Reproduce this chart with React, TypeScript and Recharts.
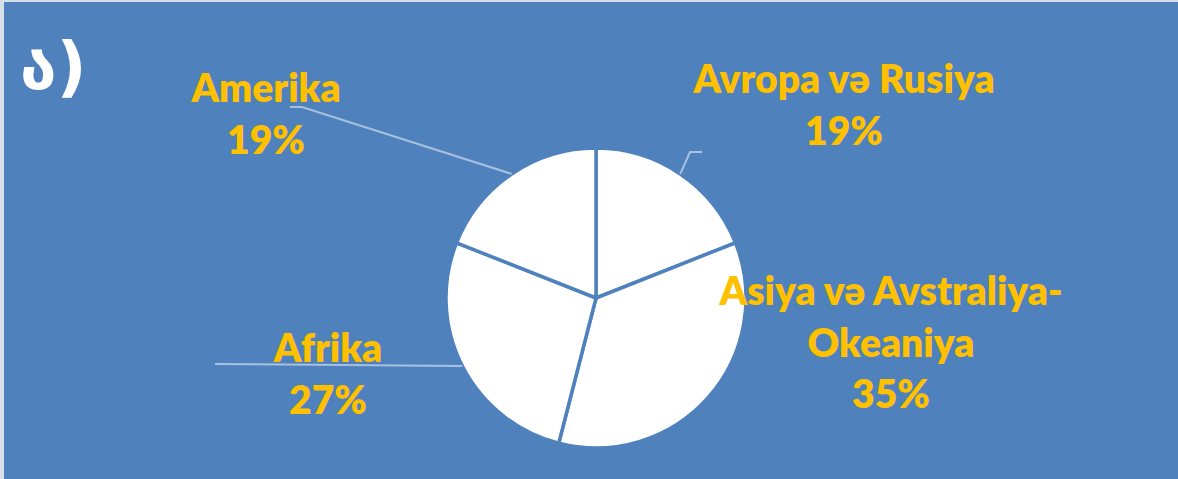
import { PieChart, Pie, Cell } from 'recharts';

// slices, clockwise from 12 o'clock
const regions = ['Avropa və Rusiya', 'Asiya və Avstraliya-Okeaniya', 'Afrika', 'Amerika'];
const shares = [19, 35, 27, 19];

const data = regions.map((name, i) => ({ name, value: shares[i] }));

const BG = '#4F81BD';
const GOLD = '#FFC000';
const LEADER = '#A9C0DE';
const FONT = 'Lato, "Open Sans", sans-serif';

// where each label sits (text centre x, first baseline y) and its leader line bend points
const LABEL_LAYOUT: Record<string, { x: number; y: number; leader?: [number, number][] }> = {
    'Avropa və Rusiya': { x: 844, y: 93, leader: [[690, 152], [702, 152]] },
    'Asiya və Avstraliya-Okeaniya': { x: 891, y: 305 },
    'Afrika': { x: 328, y: 362, leader: [[215, 364]] },
    'Amerika': { x: 266, y: 102, leader: [[302, 107], [290, 107]] },
};

const RADIAN = Math.PI / 180;

function splitName(name: string) {
    const i = name.indexOf('-');
    if (i < 0) return [name];
    return [name.slice(0, i + 1), name.slice(i + 1)];
}

function renderLabel(props: any) {
    const { cx, cy, midAngle, outerRadius, name, percent } = props;
    const pos = LABEL_LAYOUT[name];
    if (!pos) return null;
    const sx = cx + outerRadius * Math.cos(-midAngle * RADIAN);
    const sy = cy + outerRadius * Math.sin(-midAngle * RADIAN);
    const lines = [...splitName(name), `${Math.round(percent * 100)}%`];
    const pts = pos.leader ? [[sx, sy], ...pos.leader] : null;
    return (
        <g>
            {pts && (
                <polyline
                    points={pts.map((p) => p.join(',')).join(' ')}
                    fill="none"
                    stroke={LEADER}
                    strokeWidth={2}
                />
            )}
            <text x={pos.x} y={pos.y} textAnchor="middle" fill={GOLD} fontFamily={FONT} fontWeight={800} fontSize={39}>
                {lines.map((l, i) => (
                    <tspan key={i} x={pos.x} dy={i === 0 ? 0 : 51.5}>
                        {l}
                    </tspan>
                ))}
            </text>
        </g>
    );
}

export default function App() {
    return (
        <div
            style={{
                position: 'absolute',
                left: 0,
                top: 0,
                width: 1178,
                height: 479,
                background: BG,
                boxShadow: 'inset 4px 2px 0 #D6DEEA',
            }}
        >
            <div
                style={{
                    position: 'absolute',
                    left: 20,
                    top: 34,
                    color: '#fff',
                    fontFamily: '"DejaVu Sans", sans-serif',
                    fontWeight: 700,
                    fontSize: 66,
                    lineHeight: 1,
                }}
            >
                ა)
            </div>
            <PieChart
                width={1178}
                height={479}
                margin={{ top: 0, right: 0, bottom: 0, left: 0 }}
                style={{ position: 'absolute', left: 0, top: 0 }}
            >
                <Pie
                    data={data}
                    dataKey="value"
                    nameKey="name"
                    cx={596}
                    cy={298}
                    outerRadius={150}
                    startAngle={90}
                    endAngle={-270}
                    stroke={BG}
                    strokeWidth={3.5}
                    label={renderLabel}
                    labelLine={false}
                    isAnimationActive={false}
                >
                    {data.map((entry, index) => (
                        <Cell key={`cell-${index}`} fill="#FFFFFF" />
                    ))}
                </Pie>
            </PieChart>
        </div>
    );
}
